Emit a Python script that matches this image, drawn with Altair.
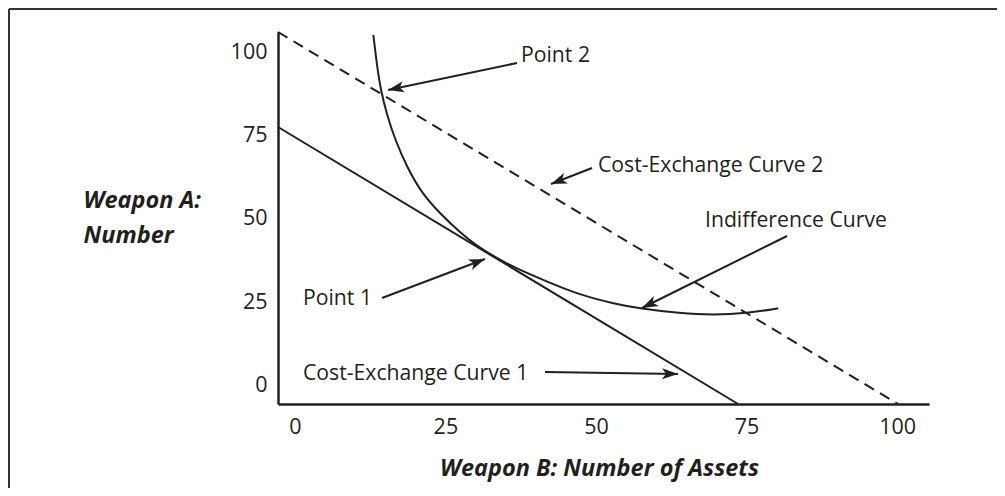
import math
import altair as alt
import pandas as pd

# ---- scale geometry (domains) ----
X_DOMAIN = [-2.8, 105.3]
Y_DOMAIN = [-5.7, 106.3]
W, H = 651, 372

tick_values = [0, 25, 50, 75, 100]

# ---- series ----
ce1_x = [-2.8, 73.6]
ce1_y = [77.7, -5.7]

ce2_x = [-2.8, 100.15]
ce2_y = [106.3, -5.7]

ind_x = [13.03, 13.59, 14.25, 15.25, 16.63, 18.57, 21.06, 24.1, 27.42, 29.91, 32.4, 34.89,
         37.38, 41.82, 47.35, 52.88, 57.31, 63.95, 69.48, 75.03, 80.28]
ind_y = [105.4, 96.88, 88.84, 81.61, 73.93, 65.8, 57.77, 51.65, 45.93, 42.32, 39.46, 36.9,
         34.64, 31.18, 27.12, 24.56, 23.05, 21.61, 21.09, 21.61, 23.11]

# ---- annotations ----
label_text = ["Point 2", "Cost-Exchange Curve 2", "Indifference Curve", "Point 1", "Cost-Exchange Curve 1"]
label_x = [37.55, 50.34, 68.1, 1.35, 1.35]
label_y = [97.27, 64.15, 47.59, 24.1, 1.52]

arrow_tail_x = [36.89, 49.34, 81.72, 14.47, 41.54]
arrow_tail_y = [96.97, 65.35, 44.88, 26.21, 3.93]
arrow_tip_x = [15.47, 42.53, 57.64, 31.57, 63.62]
arrow_tip_y = [88.84, 60.54, 23.2, 37.95, 3.33]

INK = "#231f20"
FONT = "Open Sans, sans-serif"

px_x = W / (X_DOMAIN[1] - X_DOMAIN[0])
px_y = H / (Y_DOMAIN[1] - Y_DOMAIN[0])


def head_angle(tx, ty, hx, hy):
    dx = (hx - tx) * px_x
    dy = -(hy - ty) * px_y
    return math.degrees(math.atan2(dx, -dy)) % 360


ce1 = pd.DataFrame({"x": ce1_x, "y": ce1_y})
ce2 = pd.DataFrame({"x": ce2_x, "y": ce2_y})
ind = pd.DataFrame({"x": ind_x, "y": ind_y, "o": list(range(len(ind_x)))})
labels = pd.DataFrame({"t": label_text, "x": label_x, "y": label_y})
arrows = pd.DataFrame({
    "x": arrow_tail_x, "y": arrow_tail_y,
    "x2": arrow_tip_x, "y2": arrow_tip_y,
    "ang": [head_angle(a, b, c, d) for a, b, c, d in zip(arrow_tail_x, arrow_tail_y, arrow_tip_x, arrow_tip_y)],
})

xscale = alt.Scale(domain=X_DOMAIN, nice=False, zero=False)
yscale = alt.Scale(domain=Y_DOMAIN, nice=False, zero=False)

x_axis = alt.Axis(
    values=tick_values, grid=False, ticks=False, tickSize=0,
    labelPadding=12, labelFont=FONT, labelFontSize=21.5, labelColor=INK,
    domainColor=INK, domainWidth=2.5,
    title="Weapon B: Number of Assets", titleFont=FONT, titleFontSize=23.5,
    titleFontStyle="italic", titleFontWeight="bold", titleColor=INK,
    titleX=321, titleY=71, titleAlign="center", titleBaseline="alphabetic",
)
y_axis = alt.Axis(
    values=tick_values, grid=False, ticks=False, tickSize=0,
    labelPadding=11, labelFont=FONT, labelFontSize=21.5, labelColor=INK,
    labelAlign="right", labelBaseline="middle",
    domainColor=INK, domainWidth=2.5,
    title=["Weapon A:", "Number"], titleFont=FONT, titleFontSize=23.5,
    titleFontStyle="italic", titleFontWeight="bold", titleColor=INK,
    titleAngle=0, titleX=-195, titleY=175, titleAlign="left",
    titleBaseline="alphabetic", titleLineHeight=35,
)

X = alt.X("x:Q", scale=xscale, axis=x_axis)
Y = alt.Y("y:Q", scale=yscale, axis=y_axis)

line1 = alt.Chart(ce1).mark_line(color=INK, strokeWidth=2).encode(x=X, y=Y)
line2 = alt.Chart(ce2).mark_line(color=INK, strokeWidth=2, strokeDash=[11, 7]).encode(x=X, y=Y)
curve = alt.Chart(ind).mark_line(color=INK, strokeWidth=2, interpolate="basis").encode(
    x=X, y=Y, order="o:Q")

shafts = alt.Chart(arrows).mark_rule(color=INK, strokeWidth=2).encode(
    x=X, y=Y, x2="x2:Q", y2="y2:Q")
heads = alt.Chart(arrows).mark_point(
    shape="M0,0 L-0.7,2 L0,1.5 L0.7,2 Z", size=256, filled=True,
    color=INK, opacity=1, strokeWidth=0,
).encode(
    x=alt.X("x2:Q", scale=xscale, axis=x_axis),
    y=alt.Y("y2:Q", scale=yscale, axis=y_axis),
    angle=alt.Angle("ang:Q", scale=None),
)

texts = alt.Chart(labels).mark_text(
    align="left", baseline="alphabetic", font=FONT, fontSize=21.2, color=INK,
).encode(x=X, y=Y, text="t:N")

# frame (top and left edges of the figure box)
frame_top = alt.Chart(ce1).mark_rule(color="#333333", strokeWidth=2).encode(
    x=alt.value(-269), x2=alt.value(W + 68), y=alt.value(-23))
frame_left = alt.Chart(ce1).mark_rule(color="#333333", strokeWidth=2).encode(
    x=alt.value(-269), y=alt.value(-23), y2=alt.value(H + 84))

chart = alt.layer(
    line1, line2, curve, shafts, heads, texts, frame_top, frame_left
).properties(
    width=W, height=H,
    autosize=alt.AutoSizeParams(type="none"),
    padding={"left": 270, "top": 24, "right": 68, "bottom": 84},
    background="white",
).configure_view(strokeWidth=0)

chart.save("out.html", embed_options={"renderer": "svg", "actions": False})
